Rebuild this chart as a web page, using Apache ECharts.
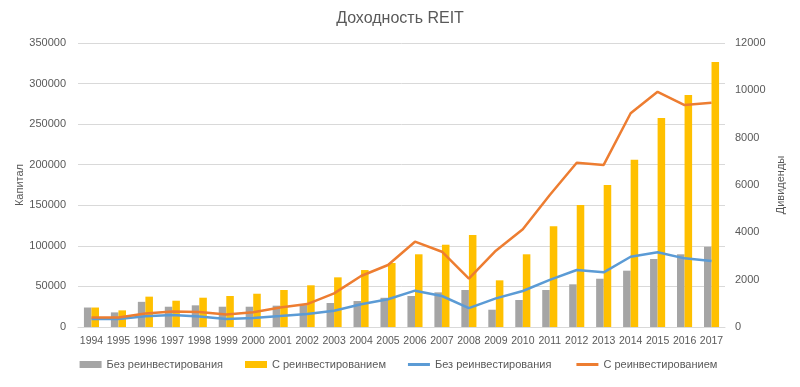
<!DOCTYPE html>
<html>
<head>
<meta charset="utf-8">
<script src="https://cdn.jsdelivr.net/npm/echarts@6/dist/echarts.min.js"></script>
<style>html,body{margin:0;padding:0;background:#fff;}#c{width:800px;height:387px;}</style>
</head>
<body>
<div id="c"></div>
<script>
const years = ['1994','1995','1996','1997','1998','1999','2000','2001','2002','2003','2004','2005','2006','2007','2008','2009','2010','2011','2012','2013','2014','2015','2016','2017'];
const capitalNoReinvest = [24000,18000,31000,25000,26700,25000,25000,26300,27000,29600,32000,36000,38200,42700,45600,21300,33300,45600,52600,59500,69400,83800,89600,98900];
const capitalReinvest = [24000,20500,37400,32400,36100,38200,41000,45600,51400,61200,70200,78900,89600,101400,113300,57500,89600,124100,150300,175000,206100,257500,285800,326500];
const divNoReinvest = [340,340,450,510,440,340,380,460,550,690,960,1170,1535,1310,800,1210,1520,1990,2410,2310,2970,3155,2900,2790];
const divReinvest = [405,405,575,660,630,530,620,820,970,1420,2155,2620,3605,3180,2040,3225,4130,5580,6940,6850,9030,9940,9380,9480];
const leftTicks = {min:0, max:350000, interval:50000};
const rightTicks = {min:0, max:12000, interval:2000};

const labelColor = '#595959';
const font = 'Liberation Sans, Arial, sans-serif';
const plain = v => String(v);
const lineIcon = 'path://M0,0 L22,0 L22,3 L0,3 Z';
const chart = echarts.init(document.getElementById('c'));
chart.setOption({
  animation:false,
  backgroundColor:'#fff',
  textStyle:{fontFamily:font},
  title:{text:'Доходность REIT', left:'center', top:6, textStyle:{color:labelColor, fontSize:16, fontWeight:'normal', fontFamily:font}},
  grid:{left:78, right:75, top:43, bottom:60},
  legend:{
    bottom:12, left:'center', itemGap:22, itemWidth:22, itemHeight:7,
    textStyle:{color:labelColor, fontSize:11, fontFamily:font},
    data:[
      {name:'Без реинвестирования', icon:'rect'},
      {name:'С реинвестированием', icon:'rect'},
      {name:'Без реинвестирования ', icon:lineIcon},
      {name:'С реинвестированием ', icon:lineIcon}
    ]
  },
  xAxis:{
    type:'category', data:years,
    axisLine:{lineStyle:{color:'#D9D9D9'}},
    axisTick:{show:false},
    axisLabel:{interval:0, color:labelColor, fontSize:10.5, margin:9}
  },
  yAxis:[
    {type:'value', min:leftTicks.min, max:leftTicks.max, interval:leftTicks.interval,
     name:'Капитал', nameLocation:'middle', nameGap:53, nameRotate:90, nameMoveOverlap:false,
     nameTextStyle:{color:labelColor, fontSize:11},
     axisLine:{show:false}, axisTick:{show:false},
     axisLabel:{color:labelColor, fontSize:11, margin:12, formatter:plain},
     splitLine:{lineStyle:{color:'#D9D9D9'}}},
    {type:'value', min:rightTicks.min, max:rightTicks.max, interval:rightTicks.interval,
     name:'Дивиденды', nameLocation:'middle', nameGap:50, nameRotate:90, nameMoveOverlap:false,
     nameTextStyle:{color:labelColor, fontSize:11},
     axisLine:{show:false}, axisTick:{show:false},
     axisLabel:{color:labelColor, fontSize:11, margin:10, formatter:plain},
     splitLine:{show:false}}
  ],
  series:[
    {name:'Без реинвестирования', type:'bar', yAxisIndex:0, data:capitalNoReinvest, barWidth:'28%', barGap:'0%', itemStyle:{color:'#A5A5A5'}},
    {name:'С реинвестированием', type:'bar', yAxisIndex:0, data:capitalReinvest, barWidth:'28%', barGap:'0%', itemStyle:{color:'#FFC000'}},
    {name:'Без реинвестирования ', type:'line', yAxisIndex:1, data:divNoReinvest, symbol:'none', lineStyle:{color:'#5B9BD5', width:2.5}, itemStyle:{color:'#5B9BD5'}},
    {name:'С реинвестированием ', type:'line', yAxisIndex:1, data:divReinvest, symbol:'none', lineStyle:{color:'#ED7D31', width:2.5}, itemStyle:{color:'#ED7D31'}}
  ]
});
</script>
</body>
</html>
